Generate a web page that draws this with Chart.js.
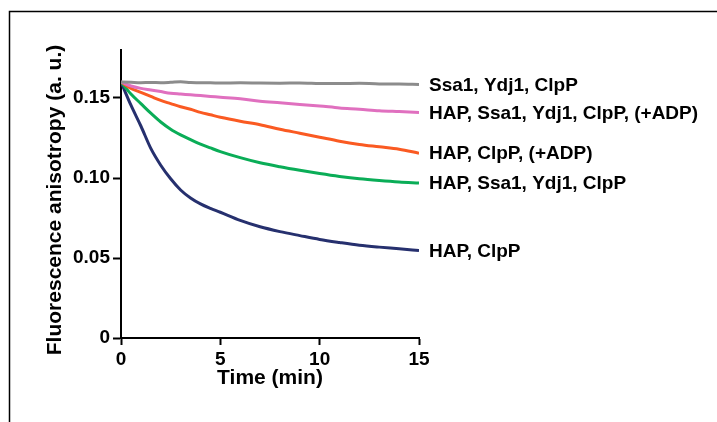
<!DOCTYPE html>
<html>
<head>
<meta charset="utf-8">
<title>Fluorescence anisotropy</title>
<script src="https://cdn.jsdelivr.net/npm/chart.js@4/dist/chart.umd.min.js"></script>
<style>
  html, body { margin: 0; padding: 0; background: #fff; }
  #wrap { width: 717px; height: 422px; position: relative; }
</style>
</head>
<body>
<div id="wrap"><canvas id="anisoChart"></canvas></div>
<script>
// time points (min)
const timeMin = [0, 0.5, 1, 1.5, 2, 2.5, 3, 3.5, 4, 4.5, 5, 6, 7, 8, 9, 10, 11, 12, 13, 14, 15];

// anisotropy traces
const ssaYdjClpP    = [0.160, 0.1598, 0.1596, 0.1597, 0.1596, 0.1598, 0.1601, 0.1597, 0.1595, 0.1595, 0.1594, 0.1595, 0.1593, 0.1592, 0.1594, 0.1591, 0.1590, 0.1592, 0.1588, 0.1588, 0.1585];
const hapSsaYdjAdp  = [0.160, 0.1575, 0.156, 0.155, 0.154, 0.153, 0.1525, 0.152, 0.1515, 0.151, 0.1505, 0.1495, 0.148, 0.147, 0.146, 0.145, 0.1438, 0.143, 0.142, 0.1415, 0.141];
const hapClpPAdp    = [0.160, 0.156, 0.1535, 0.151, 0.1485, 0.1465, 0.1445, 0.143, 0.141, 0.1395, 0.138, 0.1355, 0.1333, 0.1305, 0.128, 0.1255, 0.123, 0.121, 0.1195, 0.118, 0.1155];
const hapSsaYdjClpP = [0.160, 0.1525, 0.1465, 0.1405, 0.135, 0.1305, 0.127, 0.124, 0.1212, 0.1188, 0.1165, 0.1127, 0.1095, 0.107, 0.1048, 0.1028, 0.101, 0.0995, 0.0984, 0.0975, 0.0969];
const hapClpP       = [0.160, 0.1455, 0.1325, 0.1185, 0.108, 0.0995, 0.0925, 0.0875, 0.0838, 0.081, 0.0786, 0.0735, 0.0695, 0.0665, 0.064, 0.0616, 0.0597, 0.058, 0.0568, 0.0558, 0.0547];

const seriesLabels = ['Ssa1, Ydj1, ClpP', 'HAP, Ssa1, Ydj1, ClpP, (+ADP)', 'HAP, ClpP, (+ADP)', 'HAP, Ssa1, Ydj1, ClpP', 'HAP, ClpP'];
const seriesColors = ['#8c8c8c', '#e070bf', '#fa5a22', '#0aad57', '#26306e'];
const seriesValues = [ssaYdjClpP, hapSsaYdjAdp, hapClpPAdp, hapSsaYdjClpP, hapClpP];

const yTickValues = [0, 0.05, 0.10, 0.15];
const xTickValues = [0, 5, 10, 15];
const yTitle = 'Fluorescence anisotropy (a. u.)';

const FONT = '"Liberation Sans", Arial, Helvetica, sans-serif';
Chart.defaults.font.family = FONT;
Chart.defaults.color = '#000';

// thin frame along top and left edge of the figure, plus the y title
const framePlugin = {
    id: 'frame',
    beforeDraw: function(chart) {
        const ctx = chart.ctx;
        ctx.save();
        ctx.strokeStyle = '#000';
        ctx.lineWidth = 1.5;
        ctx.beginPath();
        ctx.moveTo(9.5, chart.height);
        ctx.lineTo(9.5, 11.5);
        ctx.lineTo(chart.width, 11.5);
        ctx.stroke();

        // y axis title sits a bit lower than the plot centre in the original
        ctx.translate(55, 200);
        ctx.rotate(-Math.PI / 2);
        ctx.font = 'bold 21px ' + FONT;
        ctx.fillStyle = '#000';
        ctx.textAlign = 'center';
        ctx.textBaseline = 'middle';
        ctx.fillText(yTitle, 0, 0);
        ctx.restore();
    }
};

// series names written at the end of each trace
const endLabels = {
    id: 'endLabels',
    afterDatasetsDraw: function(chart) {
        const ctx = chart.ctx;
        ctx.save();
        ctx.font = 'bold 19px ' + FONT;
        ctx.fillStyle = '#000';
        ctx.textAlign = 'left';
        ctx.textBaseline = 'middle';
        chart.data.datasets.forEach(function(ds, i) {
            const pts = chart.getDatasetMeta(i).data;
            const last = pts[pts.length - 1];
            ctx.fillText(ds.label, last.x + 10, last.y + 1);
        });
        ctx.restore();
    }
};

const datasets = seriesValues.map(function(vals, i) {
    return {
        label: seriesLabels[i],
        data: vals.map(function(v, j) { return { x: timeMin[j], y: v }; }),
        borderColor: seriesColors[i],
        borderWidth: 3,
        pointRadius: 0,
        cubicInterpolationMode: 'monotone',
        fill: false
    };
});

new Chart(document.getElementById('anisoChart').getContext('2d'), {
    type: 'line',
    data: { datasets: datasets },
    options: {
        responsive: true,
        maintainAspectRatio: false,
        animation: false,
        layout: { padding: { top: 50, right: 298, bottom: 0, left: 0 } },
        plugins: {
            legend: { display: false },
            tooltip: { enabled: false }
        },
        scales: {
            x: {
                type: 'linear',
                min: 0,
                max: 15,
                afterBuildTicks: function(scale) {
                    scale.ticks = xTickValues.map(function(v) { return { value: v }; });
                },
                afterFit: function(scale) { scale.height = 84; },
                grid: { drawOnChartArea: false, drawTicks: true, tickLength: 7, tickColor: '#000', tickWidth: 2 },
                border: { color: '#000', width: 2 },
                ticks: {
                    font: { size: 19, weight: 'bold' },
                    color: '#000',
                    padding: 3,
                    maxRotation: 0
                },
                title: {
                    display: true,
                    text: 'Time (min)',
                    font: { size: 21, weight: 'bold' },
                    color: '#000',
                    padding: { top: 0, bottom: 31 }
                }
            },
            y: {
                type: 'linear',
                min: 0,
                max: 0.18,
                afterBuildTicks: function(scale) {
                    scale.ticks = yTickValues.map(function(v) { return { value: v }; });
                },
                afterFit: function(scale) { scale.width = 121; },
                grid: { drawOnChartArea: false, drawTicks: true, tickLength: 8, tickColor: '#000', tickWidth: 2 },
                border: { color: '#000', width: 2 },
                ticks: {
                    font: { size: 19, weight: 'bold' },
                    color: '#000',
                    padding: 3,
                    callback: function(v) { return v === 0 ? '0' : v.toFixed(2); }
                },
                title: { display: false }
            }
        }
    },
    plugins: [framePlugin, endLabels]
});
</script>
</body>
</html>
